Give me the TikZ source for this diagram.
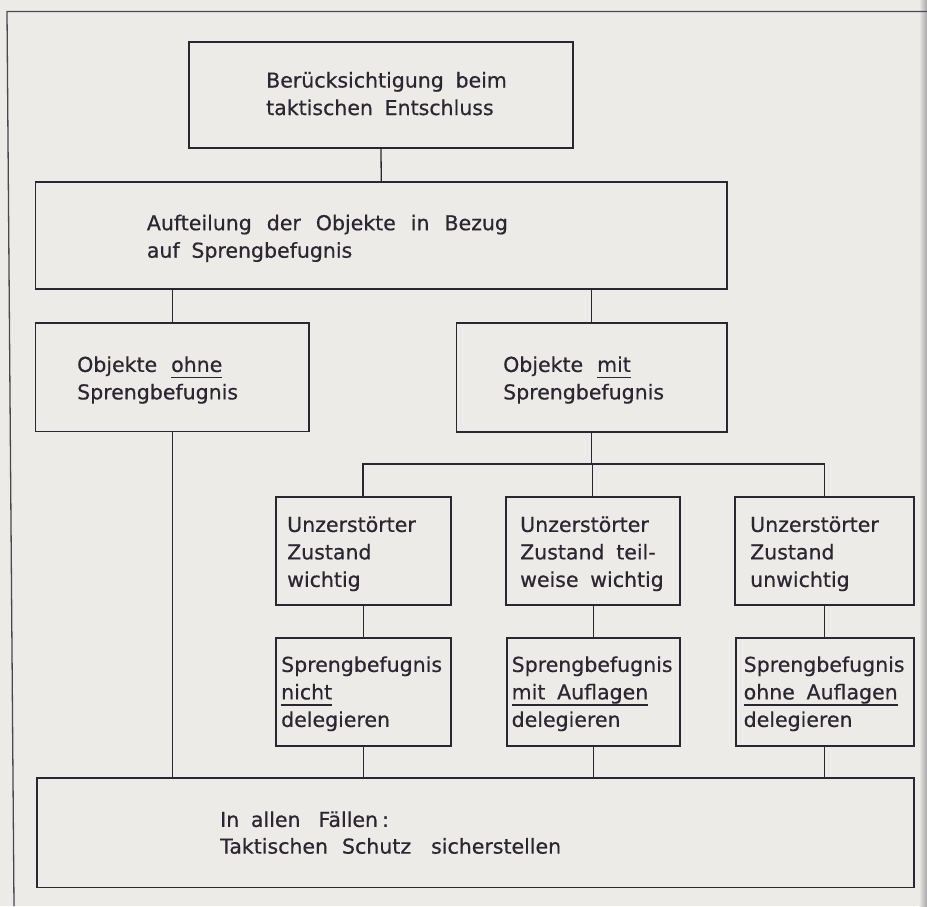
\documentclass[tikz,border=0pt]{standalone}
\usepackage{fontspec}
\setmainfont{DejaVu Sans}[WordSpace=1.8,FakeBold=0.6]
\definecolor{paper}{RGB}{236,235,231}
\definecolor{ink}{RGB}{44,38,50}
\newcommand\myul[1]{\setbox0\hbox{#1}\rlap{\color{ink}\rule[-6.5pt]{\wd0}{1.7pt}}\box0}
\newcommand\fl{\rule{0pt}{17pt}}
\tikzset{
  box/.style={draw=ink, line width=1.9pt, inner sep=0pt, rectangle},
  txt/.style={anchor=north west, inner sep=0pt, align=left, text=ink,
              font=\fontsize{20.5}{27.5}\selectfont},
  conn/.style={draw=ink, line width=1.3pt},
  frame/.style={draw=ink!85, line width=1.3pt}
}
\begin{document}
\begin{tikzpicture}[x=1pt,y=-1pt]
\fill[paper] (0,0) rectangle (927,906);
\useasboundingbox (0,0) rectangle (927,906);
\shade[left color=paper, right color=black!35] (919,0) rectangle (927,906);
% frame
\coordinate (ftl) at (7,11.5);
\coordinate (ftr) at (927,11.5);
\coordinate (fbl) at (14,906);
\draw[frame] (ftr) -- (ftl) -- (fbl);
% boxes
\node[box, minimum width=384pt,   minimum height=106pt]   (b1)  at (381,95) {};
\node[box, minimum width=691.5pt, minimum height=107pt]   (b2)  at (381.25,235.5) {};
\node[box, minimum width=273.5pt, minimum height=108.5pt] (b3)  at (172.25,377.25) {};
\node[box, minimum width=270.5pt, minimum height=109pt]   (b4)  at (591.75,377.5) {};
\node[box, minimum width=175pt,   minimum height=108pt]   (b5)  at (363.1,551) {};
\node[box, minimum width=174.4pt, minimum height=108pt]   (b6)  at (592.8,551) {};
\node[box, minimum width=178.6pt, minimum height=108pt]   (b7)  at (824.3,551) {};
\node[box, minimum width=175pt,   minimum height=108pt]   (b8)  at (363.5,692) {};
\node[box, minimum width=173pt,   minimum height=108pt]   (b9)  at (593.5,692) {};
\node[box, minimum width=177.6pt, minimum height=108pt]   (b10) at (824.8,692) {};
\node[box, minimum width=876.6pt, minimum height=109.5pt] (b11) at (475.3,832.75) {};
% texts
\node[txt] (t1) at (266,70.3) {\fl Berücksichtigung beim\\taktischen Entschluss};
\node[txt] (t2) at (146.7,213) {\fl Aufteilung\hspace{15pt}der\hspace{15pt}Objekte\hspace{15pt}in\hspace{15pt}Bezug\\auf Sprengbefugnis};
\node[txt] (t3) at (77,354.7) {\fl Objekte\hspace{14pt}\myul{ohne}\\Sprengbefugnis};
\node[txt] (t4) at (503,354.7) {\fl Objekte\hspace{14pt}\myul{mit}\\Sprengbefugnis};
\node[txt] (t5) at (287,514.7) {\fl Unzerstörter\\Zustand\\wichtig};
\node[txt] (t6) at (520,514.7) {\fl Unzerstörter\\Zustand teil-\\weise wichtig};
\node[txt] (t7) at (750,514.7) {\fl Unzerstörter\\Zustand\\unwichtig};
\node[txt] (t8) at (281,654.7) {\fl Sprengbefugnis\\\myul{nicht}\\delegieren};
\node[txt] (t9) at (511.5,654.7) {\fl Sprengbefugnis\\\myul{mit Auflagen}\\delegieren};
\node[txt] (t10) at (743.5,654.7) {\fl Sprengbefugnis\\\myul{ohne Auflagen}\\delegieren};
\node[txt, font=\fontsize{20.5}{26.7}\selectfont] (t11) at (220,809.7) {\fl In allen\hspace{18pt}Fällen\hspace{4pt}:\\Taktischen\hspace{14pt}Schutz\hspace{20pt}sicherstellen};
% connectors
\coordinate (bus) at (592.8,464);
\draw[conn] (b1.south) -- (b2.north);
\draw[conn] (b3.north) -- (b3.north |- b2.south);
\draw[conn] (b4.north) -- (b4.north |- b2.south);
\draw[conn] (b3.south) -- (b3.south |- b11.north);
\draw[conn] (b4.south) -- (b4.south |- bus);
\draw[conn] (b5.north) |- (bus) -| (b7.north);
\draw[conn] (b6.north) -- (b6.north |- bus);
\draw[conn] (b8.north) -- (b8.north |- b5.south);
\draw[conn] (b9.north) -- (b9.north |- b6.south);
\draw[conn] (b10.north) -- (b10.north |- b7.south);
\draw[conn] (b8.south) -- (b8.south |- b11.north);
\draw[conn] (b9.south) -- (b9.south |- b11.north);
\draw[conn] (b10.south) -- (b10.south |- b11.north);
\end{tikzpicture}
\end{document}
